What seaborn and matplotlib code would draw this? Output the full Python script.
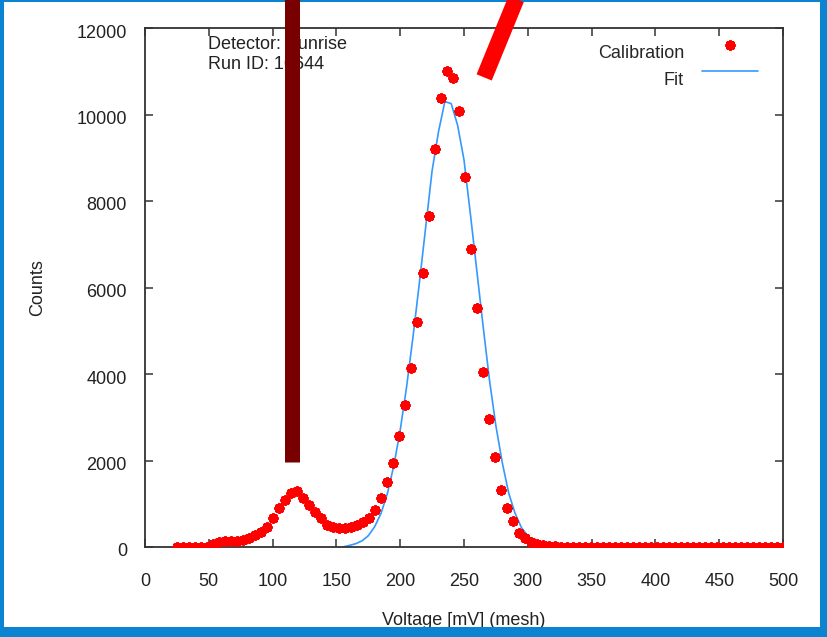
import numpy as np
import pandas as pd
import matplotlib
matplotlib.use("Agg")
import matplotlib.pyplot as plt
from matplotlib.patches import Rectangle
from matplotlib.lines import Line2D
from matplotlib.collections import PathCollection
from matplotlib.transforms import ScaledTranslation
import seaborn as sns

# Mesh voltage scan (mV) and the calibration counts recorded at each step
voltage = [
    25.0, 29.7, 34.4, 39.1, 43.8, 48.5, 53.2, 57.9, 62.6, 67.3,
    72.0, 76.7, 81.4, 86.1, 90.8, 95.5, 100.2, 104.9, 109.7, 114.4,
    119.1, 123.8, 128.5, 133.2, 137.9, 142.6, 147.3, 152.0, 156.6, 161.4,
    166.1, 170.8, 175.5, 180.2, 184.9, 189.6, 194.3, 199.0, 203.7, 208.4,
    213.1, 217.8, 222.5, 227.2, 231.9, 236.6, 241.3, 246.0, 250.7, 255.4,
    260.2, 264.9, 269.6, 274.3, 279.0, 283.7, 288.4, 293.1, 297.8, 302.5,
    307.2, 311.9, 316.6, 321.3, 326.0, 330.7, 335.4, 340.1, 344.8, 349.6,
    354.3, 359.0, 363.7, 368.4, 373.1, 377.8, 382.5, 387.2, 391.9, 396.6,
    401.3, 406.0, 410.7, 415.4, 420.1, 424.8, 429.5, 434.2, 438.9, 443.6,
    448.4, 453.1, 457.8, 462.5, 467.2, 471.9, 476.6, 481.3, 486.0, 490.7,
    495.4, 500.0,
]
counts = [
    0, 0, 0, 0, 0, 0, 80, 110, 130, 140,
    150, 170, 210, 277, 354, 470, 663, 909, 1087, 1241,
    1290, 1140, 971, 816, 663, 509, 470, 431, 447, 470,
    509, 585, 663, 855, 1126, 1511, 1934, 2566, 3283, 4132,
    5210, 6328, 7653, 9195, 10388, 11006, 10844, 10088, 8555, 6883,
    5518, 4054, 2960, 2088, 1320, 909, 608, 331, 200, 123,
    75, 45, 25, 12, 6, 0, 0, 0, 0, 0,
    0, 0, 0, 0, 0, 0, 0, 0, 0, 0,
    0, 0, 0, 0, 0, 0, 0, 0, 0, 0,
    0, 0, 0, 0, 0, 0, 0, 0, 0, 0,
    0, 0,
]

# Fitted peak, sampled every 5 mV
fit_voltage = [
    155, 160, 165, 170, 175, 180, 185, 190, 195, 200,
    205, 210, 215, 220, 225, 230, 235, 240, 245, 250,
    255, 260, 265, 270, 275, 280, 285, 290, 295, 300,
    305, 310, 315, 320,
]
fit_counts = [
    0, 35, 75, 140, 260, 470, 780, 1240, 1880, 2700,
    3700, 4850, 6100, 7400, 8700, 9600, 10300, 10250, 9750, 8950,
    7700, 6400, 5100, 3850, 2800, 1950, 1250, 780, 450, 260,
    130, 60, 25, 8,
]

x_ticks = [0, 50, 100, 150, 200, 250, 300, 350, 400, 450, 500]
y_ticks = [0, 2000, 4000, 6000, 8000, 10000, 12000]

sns.set_theme(style="white")
plt.rcParams["font.family"] = ["Liberation Sans", "DejaVu Sans"]

W, H, DPI = 827, 637, 100
fig = plt.figure(figsize=(W / DPI, H / DPI), dpi=DPI)
fig.patch.set_facecolor("white")
ax = fig.add_axes([145 / W, 1 - 547 / H, (783 - 145) / W, (547 - 28) / H])
ax.set_facecolor("white")

calib = pd.DataFrame({"Voltage": voltage, "Counts": counts})
fit = pd.DataFrame({"Voltage": fit_voltage, "Counts": fit_counts})

sns.lineplot(data=fit, x="Voltage", y="Counts", ax=ax, color="#3399ff",
             linewidth=1.2, label="Fit", zorder=2)
sns.scatterplot(data=calib, x="Voltage", y="Counts", ax=ax, color="#ff0000",
                marker=(8, 2, 0), s=30, linewidth=2.3, label="Calibration",
                zorder=3)

ax.set_xlim(0, 500)
ax.set_ylim(0, 12000)
ax.set_xticks(x_ticks)
ax.set_yticks(y_ticks)
ax.set_xticklabels([str(t) for t in x_ticks])
ax.set_yticklabels([str(t) for t in y_ticks])

for s in ax.spines.values():
    s.set_color("#333333")
    s.set_linewidth(1.3)
ax.tick_params(axis="both", which="both", direction="in", length=6,
               width=1.1, color="#333333", labelsize=13, labelcolor="#222222",
               top=True, right=True, bottom=True, left=True)
ax.tick_params(axis="x", pad=18.5)
ax.tick_params(axis="y", pad=13)

# y tick labels sit a little below their ticks
for tick in ax.yaxis.get_major_ticks():
    tick.label1.set_transform(tick.label1.get_transform()
                              + ScaledTranslation(0, -3 / DPI, fig.dpi_scale_trans))

ax.set_xlabel("Voltage [mV] (mesh)", fontsize=13, color="#222222", labelpad=16)
ax.set_ylabel("Counts", fontsize=13, color="#222222", labelpad=22)

handles, labels = ax.get_legend_handles_labels()
order = [labels.index("Calibration"), labels.index("Fit")]
leg = ax.legend([handles[i] for i in order], [labels[i] for i in order],
                loc="upper right", bbox_to_anchor=(0.978, 0.989), frameon=False,
                markerfirst=False, fontsize=13, handlelength=3.1,
                handletextpad=1.0, labelspacing=0.57, borderaxespad=0.2)
# legend keys ride slightly above their text
dy = 5.5
for h in leg.legend_handles:
    if isinstance(h, PathCollection):
        h.set_offsets(np.asarray(h.get_offsets()) + [0, dy])
    elif isinstance(h, Line2D):
        h.set_ydata(np.asarray(h.get_ydata()) + dy)

ax.text(0.098, 0.985, "Detector: Sunrise\nRun ID: 16644", transform=ax.transAxes,
        ha="left", va="top", fontsize=13, color="#222222", linespacing=1.22)

# Blue frame around the canvas, drawn over the axes labels
frame_color = "#0a84d0"
for (x0, y0, w, h) in [
    (0, 0, 4, H),           # left
    (820, 0, W - 820, H),   # right
    (0, 0, W, 2),           # top
    (0, 627, W, H - 627),   # bottom
]:
    fig.add_artist(Rectangle((x0 / W, 1 - (y0 + h) / H), w / W, h / H,
                             transform=fig.transFigure, facecolor=frame_color,
                             edgecolor="none", zorder=5))

# Marker bars pointing at the two peaks
fig.add_artist(Line2D([115.3, 115.3], [1970, 14000], transform=ax.transData,
                      color="#780000", linewidth=10.8, solid_capstyle="butt",
                      zorder=6))
fig.add_artist(Line2D([265.8, 297.0], [10858, 13110], transform=ax.transData,
                      color="#ff0000", linewidth=11.8, solid_capstyle="butt",
                      zorder=6))

fig.savefig("out.png", dpi=DPI)
